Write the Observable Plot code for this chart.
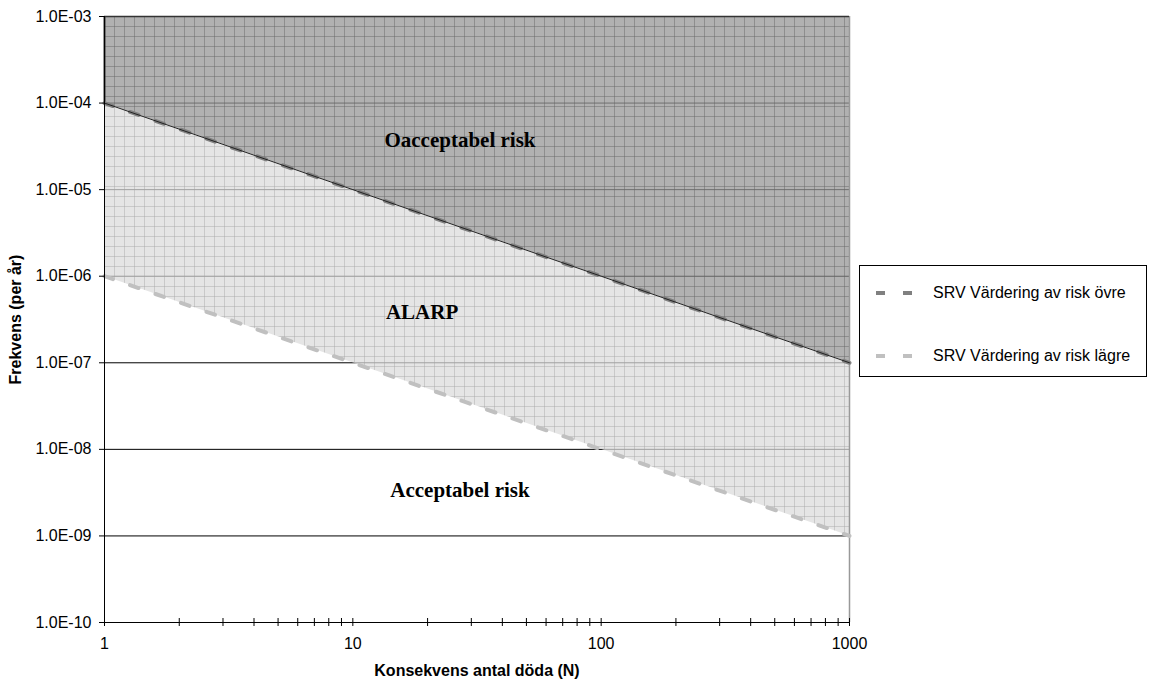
<!DOCTYPE html>
<html>
<head>
<meta charset="utf-8">
<script src="https://cdn.jsdelivr.net/npm/d3@7"></script>
<script src="https://cdn.jsdelivr.net/npm/@observablehq/plot@0.6"></script>
<style>
  html, body { margin: 0; padding: 0; background: #fff; }
  #wrap { position: relative; width: 1156px; height: 684px; font-family: "Liberation Sans", Arial, sans-serif; }
  #legend { position: absolute; left: 859px; top: 265px; width: 288px; height: 112px; border: 1px solid #000; background: #fff; box-sizing: border-box; }
  .item { position: absolute; left: 16px; display: flex; align-items: center; font-size: 16px; color: #000; white-space: nowrap; }
  .item svg { margin-right: 19px; }
</style>
</head>
<body>
<div id="wrap"><div id="legend"></div></div>
<script>
// ---- data ----
const consequenceN = [1, 10, 100, 1000];
const upperLimit = [1e-4, 1e-5, 1e-6, 1e-7];   // SRV Värdering av risk övre
const lowerLimit = [1e-6, 1e-7, 1e-8, 1e-9];   // SRV Värdering av risk lägre
const frequencyTop = 1e-3;
const frequencyBottom = 1e-10;
const yTickValues = [1e-10, 1e-9, 1e-8, 1e-7, 1e-6, 1e-5, 1e-4, 1e-3];
const yTickLabels = ["1.0E-10", "1.0E-09", "1.0E-08", "1.0E-07", "1.0E-06", "1.0E-05", "1.0E-04", "1.0E-03"];
const xMajorTicks = [1, 10, 100, 1000];
const xMinorTicks = [2, 3, 4, 5, 6, 7, 8, 9, 20, 30, 40, 50, 60, 70, 80, 90, 200, 300, 400, 500, 600, 700, 800, 900];
const seriesNames = ["SRV Värdering av risk övre", "SRV Värdering av risk lägre"];
const seriesColors = ["#808080", "#c0c0c0"];
const regionText = ["Oacceptabel risk", "ALARP", "Acceptabel risk"];
const regionN = [27, 19, 27];
const regionF = [3.7e-5, 3.8e-7, 3.4e-9];

// ---- tables built from arrays ----
const table = consequenceN.map((n, i) => ({N: n, upper: upperLimit[i], lower: lowerLimit[i], top: frequencyTop}));
const regions = regionText.map((t, i) => ({text: t, N: regionN[i], F: regionF[i]}));
const yLabelMap = new Map(yTickValues.map((v, i) => [v, yTickLabels[i]]));
const xAllTicks = [...xMajorTicks, ...xMinorTicks];

const chart = Plot.plot({
  width: 1156,
  height: 684,
  marginLeft: 104,
  marginRight: 307,
  marginTop: 16,
  marginBottom: 62,
  x: {type: "log", domain: [1, 1000]},
  y: {type: "log", domain: [frequencyBottom, frequencyTop]},
  style: {fontFamily: "'Liberation Sans', Arial, sans-serif", fontSize: "16px", color: "#000", background: "transparent"},
  marks: [
    Plot.ruleY(yTickValues, {stroke: "#000", strokeWidth: 1}),
    Plot.areaY(table, {x: "N", y1: "lower", y2: "upper", fill: "url(#patLight)"}),
    Plot.areaY(table, {x: "N", y1: "upper", y2: "top", fill: "url(#patDark)"}),
    Plot.ruleX([1000], {stroke: "#999", strokeWidth: 1.5}),
    Plot.ruleY([frequencyTop], {stroke: "#333", strokeWidth: 1.5}),
    Plot.ruleX([1], {y1: upperLimit[0], y2: frequencyTop, stroke: "#333", strokeWidth: 2}),
    Plot.line(table, {x: "N", y: "lower", stroke: seriesColors[1], strokeWidth: 4, strokeDasharray: "9,18"}),
    Plot.line(table, {x: "N", y: "upper", stroke: seriesColors[0], strokeWidth: 4, strokeDasharray: "9,18"}),
    Plot.line(table, {x: "N", y: "upper", stroke: "#222", strokeWidth: 1}),
    Plot.ruleX([1], {stroke: "#000", strokeWidth: 1}),
    Plot.ruleY([frequencyBottom], {stroke: "#000", strokeWidth: 1}),
    Plot.ruleX(xAllTicks, {x: d => d, y1: () => frequencyBottom, y2: () => frequencyBottom, insetTop: -4, insetBottom: -4, stroke: "#000"}),
    Plot.axisY(yTickValues, {anchor: "left", tickSize: 5, tickPadding: 8, tickFormat: d => yLabelMap.get(d), label: null, fontSize: 16}),
    Plot.axisX(xMajorTicks, {anchor: "bottom", tickSize: 0, tickPadding: 15, tickFormat: d => String(d), label: null, fontSize: 16}),
    Plot.text(regions, {x: "N", y: "F", text: "text", fontFamily: "'Liberation Serif', 'Times New Roman', serif", fontWeight: "bold", fontSize: 21, fill: "#000"}),
    Plot.text(["Frekvens (per år)"], {frameAnchor: "left", dx: -89, rotate: -90, textAnchor: "middle", lineAnchor: "middle", fontWeight: "bold", fontSize: 16, fill: "#000"}),
    Plot.text(["Konsekvens antal döda (N)"], {frameAnchor: "bottom", dy: 48, lineAnchor: "middle", textAnchor: "middle", fontWeight: "bold", fontSize: 16, fill: "#000"})
  ]
});

const defs = document.createElementNS("http://www.w3.org/2000/svg", "defs");
defs.innerHTML = `
  <pattern id="patLight" x="104" y="16" width="10" height="10" patternUnits="userSpaceOnUse">
    <rect width="10" height="10" fill="rgb(219,219,219)" fill-opacity="0.73"></rect>
    <path d="M0 0.5H10M0.5 0V10" stroke="rgb(160,160,160)" stroke-opacity="0.4" stroke-width="1"></path>
  </pattern>
  <pattern id="patDark" x="104" y="16" width="10" height="10" patternUnits="userSpaceOnUse">
    <rect width="10" height="10" fill="rgb(150,150,150)" fill-opacity="0.74"></rect>
    <path d="M0 0.5H10M0.5 0V10" stroke="rgb(100,100,100)" stroke-opacity="0.45" stroke-width="1"></path>
  </pattern>`;
chart.insertBefore(defs, chart.firstChild);
document.getElementById("wrap").insertBefore(chart, document.getElementById("legend"));
chart.style.position = "absolute";
chart.style.left = "0";
chart.style.top = "0";

// legend
const legend = document.getElementById("legend");
const itemTops = [17, 80];
seriesNames.forEach((name, i) => {
  const div = document.createElement("div");
  div.className = "item";
  div.style.top = itemTops[i] + "px";
  div.innerHTML = `<svg width="38" height="20"><line x1="0" x2="38" y1="10" y2="10" stroke="${seriesColors[i]}" stroke-width="4" stroke-dasharray="9,18"></line></svg><span>${name}</span>`;
  legend.appendChild(div);
});
</script>
</body>
</html>
